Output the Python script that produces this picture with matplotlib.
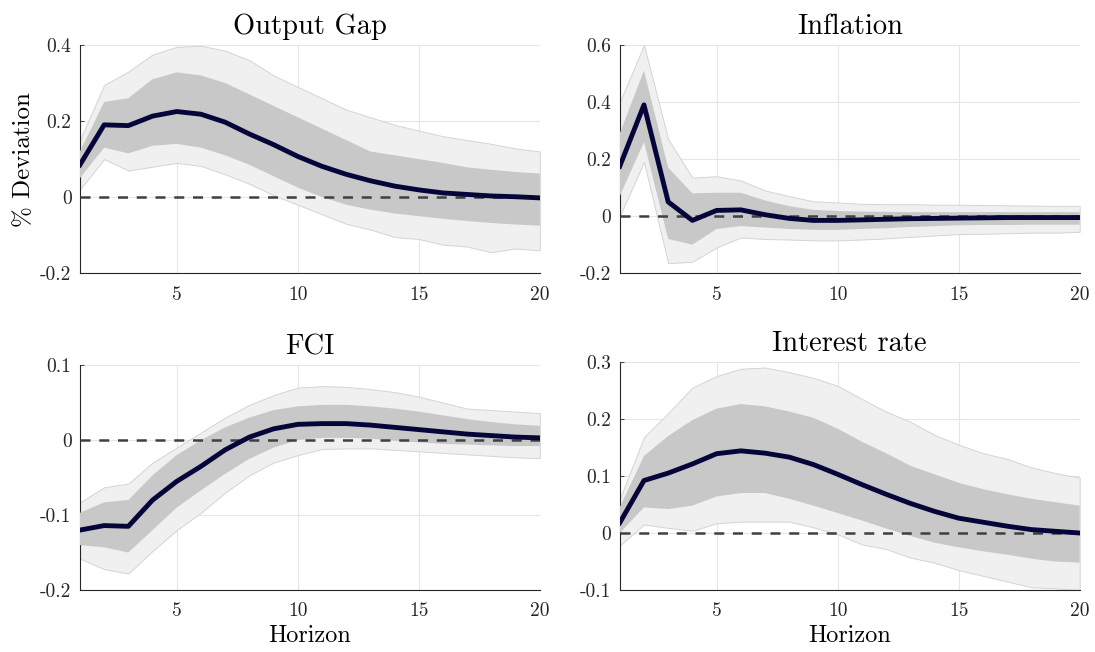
import matplotlib
matplotlib.use("Agg")
from matplotlib import pyplot as plt
import numpy as np

plt.rcParams['font.family'] = 'serif'
plt.rcParams['font.serif'] = ['cmr10']
plt.rcParams['mathtext.fontset'] = 'cm'
plt.rcParams['axes.formatter.use_mathtext'] = True

horizon = np.arange(1, 21)

# Output gap
gap_med = [0.085, 0.19, 0.188, 0.213, 0.225, 0.218, 0.197, 0.166, 0.138, 0.107,
           0.081, 0.060, 0.043, 0.029, 0.019, 0.011, 0.007, 0.003, 0.001, -0.002]
gap_in_hi = [0.12, 0.25, 0.26, 0.31, 0.328, 0.32, 0.30, 0.27, 0.24, 0.21,
             0.18, 0.15, 0.12, 0.11, 0.10, 0.09, 0.078, 0.072, 0.066, 0.062]
gap_in_lo = [0.05, 0.13, 0.115, 0.135, 0.14, 0.13, 0.11, 0.085, 0.055, 0.025,
             0.0, -0.02, -0.033, -0.043, -0.05, -0.057, -0.063, -0.068, -0.072, -0.075]
gap_out_hi = [0.15, 0.295, 0.33, 0.375, 0.395, 0.398, 0.385, 0.36, 0.32, 0.29,
              0.26, 0.23, 0.21, 0.19, 0.175, 0.16, 0.15, 0.14, 0.128, 0.12]
gap_out_lo = [0.02, 0.10, 0.07, 0.08, 0.09, 0.082, 0.06, 0.035, 0.005, -0.02,
              -0.045, -0.07, -0.085, -0.105, -0.11, -0.125, -0.13, -0.145, -0.135, -0.14]

# Inflation
inf_med = [0.175, 0.39, 0.05, -0.015, 0.02, 0.022, 0.005, -0.008, -0.015, -0.015,
           -0.013, -0.011, -0.009, -0.008, -0.007, -0.006, -0.005, -0.005, -0.005, -0.005]
inf_in_hi = [0.29, 0.51, 0.17, 0.08, 0.082, 0.082, 0.055, 0.035, 0.022, 0.018,
             0.016, 0.015, 0.014, 0.014, 0.014, 0.014, 0.014, 0.014, 0.014, 0.014]
inf_in_lo = [0.07, 0.26, -0.08, -0.10, -0.045, -0.035, -0.04, -0.045, -0.048, -0.048,
             -0.045, -0.042, -0.038, -0.035, -0.032, -0.031, -0.031, -0.030, -0.030, -0.030]
inf_out_hi = [0.40, 0.60, 0.27, 0.135, 0.14, 0.125, 0.09, 0.07, 0.052, 0.048,
              0.043, 0.042, 0.042, 0.040, 0.040, 0.039, 0.038, 0.037, 0.036, 0.036]
inf_out_lo = [0.0, 0.19, -0.165, -0.16, -0.11, -0.075, -0.08, -0.082, -0.085, -0.085,
              -0.082, -0.078, -0.073, -0.068, -0.063, -0.062, -0.060, -0.058, -0.058, -0.055]

# FCI
fci_med = [-0.12, -0.114, -0.115, -0.08, -0.055, -0.035, -0.013, 0.004, 0.015, 0.021,
           0.022, 0.022, 0.020, 0.017, 0.014, 0.011, 0.008, 0.006, 0.004, 0.003]
fci_in_hi = [-0.097, -0.083, -0.08, -0.047, -0.02, 0.0, 0.017, 0.03, 0.04, 0.045,
             0.047, 0.047, 0.045, 0.042, 0.038, 0.033, 0.028, 0.024, 0.021, 0.019]
fci_in_lo = [-0.14, -0.143, -0.15, -0.12, -0.09, -0.067, -0.045, -0.025, -0.01, 0.0,
             0.003, 0.003, 0.002, -0.001, -0.003, -0.005, -0.006, -0.007, -0.008, -0.008]
fci_out_hi = [-0.083, -0.063, -0.058, -0.03, -0.01, 0.01, 0.03, 0.047, 0.06, 0.07,
              0.072, 0.071, 0.068, 0.064, 0.058, 0.05, 0.042, 0.04, 0.038, 0.036]
fci_out_lo = [-0.158, -0.172, -0.178, -0.148, -0.12, -0.097, -0.07, -0.047, -0.03, -0.02,
              -0.012, -0.011, -0.011, -0.013, -0.015, -0.017, -0.019, -0.021, -0.023, -0.024]

# Interest rate
ir_med = [0.018, 0.092, 0.105, 0.121, 0.139, 0.144, 0.14, 0.133, 0.12, 0.103,
          0.085, 0.068, 0.052, 0.038, 0.026, 0.019, 0.012, 0.006, 0.003, 0.0]
ir_in_hi = [0.045, 0.135, 0.17, 0.198, 0.218, 0.226, 0.222, 0.213, 0.202, 0.183,
            0.16, 0.14, 0.118, 0.103, 0.088, 0.077, 0.068, 0.06, 0.054, 0.048]
ir_in_lo = [0.0, 0.045, 0.042, 0.048, 0.064, 0.07, 0.07, 0.06, 0.048, 0.035,
            0.022, 0.008, -0.005, -0.017, -0.025, -0.032, -0.038, -0.045, -0.05, -0.052]
ir_out_hi = [0.06, 0.168, 0.21, 0.255, 0.275, 0.288, 0.29, 0.282, 0.272, 0.258,
             0.235, 0.213, 0.195, 0.172, 0.155, 0.14, 0.13, 0.115, 0.105, 0.097]
ir_out_lo = [-0.022, 0.015, 0.009, 0.004, 0.017, 0.02, 0.02, 0.02, 0.01, -0.002,
             -0.02, -0.028, -0.043, -0.052, -0.065, -0.075, -0.085, -0.095, -0.097, -0.1]

titles = ['Output Gap', 'Inflation', 'FCI', 'Interest rate']
ylims = [(-0.2, 0.4), (-0.2, 0.6), (-0.2, 0.1), (-0.1, 0.3)]
yticks = [[-0.2, 0, 0.2, 0.4], [-0.2, 0, 0.2, 0.4, 0.6],
          [-0.2, -0.1, 0, 0.1], [-0.1, 0, 0.1, 0.2, 0.3]]
data = [(gap_med, gap_in_lo, gap_in_hi, gap_out_lo, gap_out_hi),
        (inf_med, inf_in_lo, inf_in_hi, inf_out_lo, inf_out_hi),
        (fci_med, fci_in_lo, fci_in_hi, fci_out_lo, fci_out_hi),
        (ir_med, ir_in_lo, ir_in_hi, ir_out_lo, ir_out_hi)]

positions = [[0.073, 0.581, 0.420, 0.350],
             [0.566, 0.581, 0.420, 0.350],
             [0.073, 0.095, 0.420, 0.345],
             [0.566, 0.095, 0.420, 0.350]]


def fmt(v):
    if v == 0:
        return '0'
    return ('%.1f' % v)


fig = plt.figure(figsize=(10.95, 6.52), dpi=100)
for i in range(4):
    ax = fig.add_axes(positions[i])
    med, in_lo, in_hi, out_lo, out_hi = data[i]
    ax.fill_between(horizon, out_lo, out_hi, facecolor='#f0f0f0',
                    edgecolor='#d4d4d4', linewidth=0.7, zorder=2)
    ax.fill_between(horizon, in_lo, in_hi, facecolor='#c8c8c8',
                    edgecolor='none', zorder=3)
    ax.axhline(0, color='#404040', linestyle=(0, (4, 3.5)), linewidth=1.8, zorder=4)
    ax.plot(horizon, med, color='#05053a', linewidth=3.5, zorder=5,
            solid_joinstyle='round')
    ax.set_xlim(1, 20)
    ax.set_ylim(*ylims[i])
    ax.set_xticks([5, 10, 15, 20])
    ax.set_xticklabels(['5', '10', '15', '20'])
    ax.set_yticks(yticks[i])
    ax.set_yticklabels([fmt(v) for v in yticks[i]])
    ax.grid(True, color='#e6e6e6', linewidth=0.8, zorder=0)
    ax.set_axisbelow(True)
    for s in ['top', 'right']:
        ax.spines[s].set_visible(False)
    for s in ['left', 'bottom']:
        ax.spines[s].set_color('#262626')
        ax.spines[s].set_linewidth(0.8)
    ax.tick_params(direction='in', length=3, width=0.6, labelsize=14,
                   colors='#262626', pad=6)
    ax.tick_params(axis='x', length=0, pad=9)
    ax.set_title(titles[i], fontsize=20.5, pad=8)
    if i == 0:
        ax.set_ylabel('% Deviation', fontsize=18, labelpad=4)
    if i >= 2:
        ax.set_xlabel('Horizon', fontsize=17.5, labelpad=3)

fig.savefig('out.png', dpi=100)
